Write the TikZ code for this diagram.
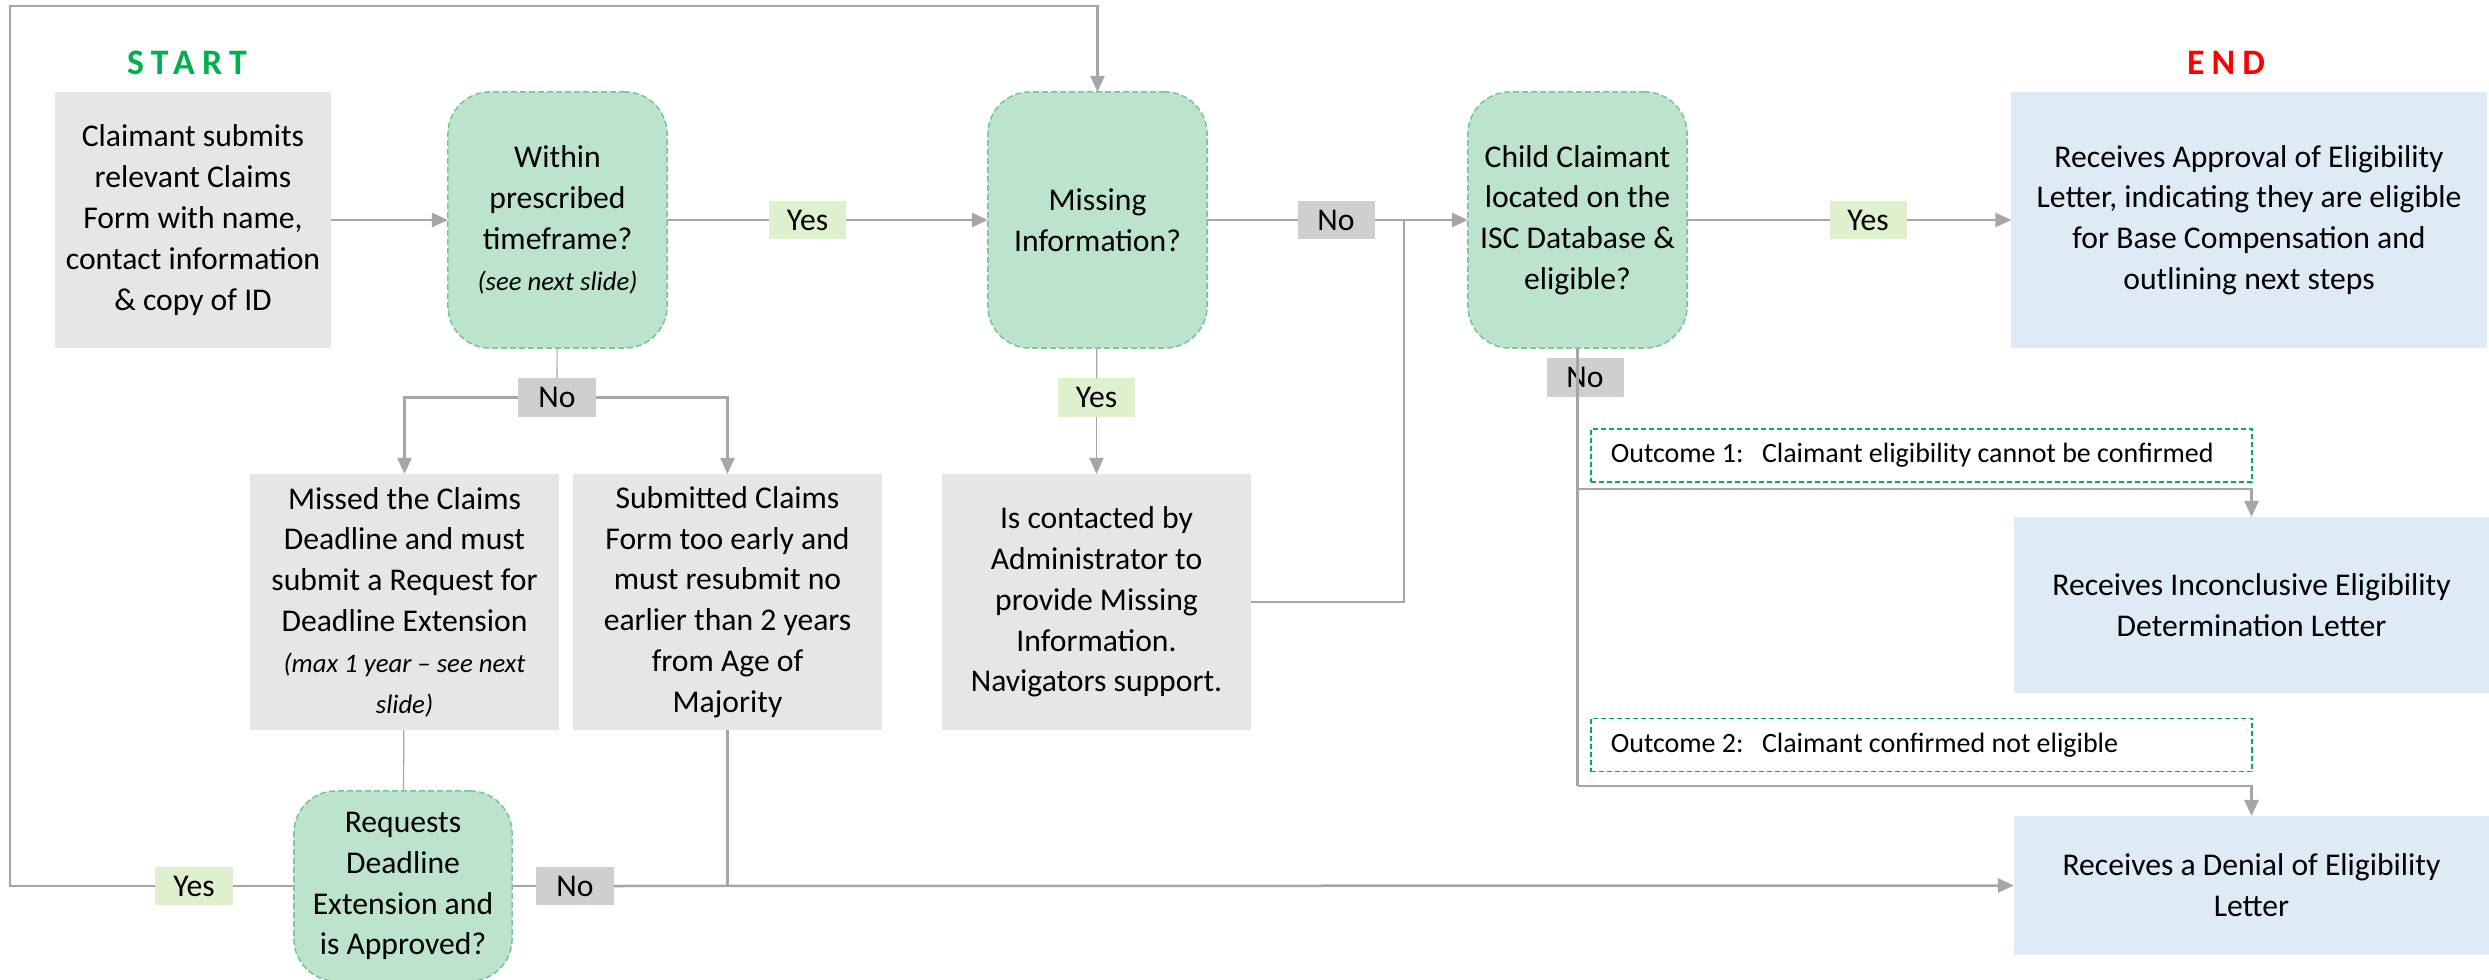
\documentclass[tikz,border=0pt]{standalone}
\usepackage{fontspec}
\setmainfont{Carlito}
\newfontfamily\spacedfont[LetterSpace=20]{Carlito}
\usetikzlibrary{arrows.meta}

\definecolor{linegrey}{RGB}{166,166,166}
\definecolor{boxgrey}{RGB}{231,230,230}
\definecolor{mint}{RGB}{188,227,203}
\definecolor{mintline}{RGB}{118,196,148}
\definecolor{paleblue}{RGB}{222,234,246}
\definecolor{yesgreen}{RGB}{222,240,206}
\definecolor{nogrey}{RGB}{208,206,206}
\definecolor{startgreen}{RGB}{0,176,80}
\definecolor{endred}{RGB}{255,0,0}

\newcommand{\smallnote}[1]{{\fontsize{7.6}{9.5}\selectfont\itshape #1}}
\newcommand{\outcometext}[1]{\makebox[6.21cm][l]{#1}}

\tikzset{
  every node/.style={inner sep=0pt, outer sep=0pt, align=center,
    font=\fontsize{9}{11.6}\selectfont},
  title/.style={font=\spacedfont\bfseries\fontsize{10.2}{12}\selectfont},
  greybox/.style={fill=boxgrey, minimum width=3.09cm, minimum height=2.56cm},
  bluebox/.style={fill=paleblue, minimum width=4.75cm},
  decision/.style={fill=mint, draw=mintline, line width=0.015cm,
    dash pattern=on 0.06cm off 0.03cm, rounded corners=0.42cm,
    minimum width=2.19cm, minimum height=2.56cm},
  yeslbl/.style={fill=yesgreen, minimum width=0.77cm, minimum height=0.38cm},
  nolbl/.style={fill=nogrey, minimum width=0.77cm, minimum height=0.38cm},
  outcome/.style={draw=startgreen, fill=white, line width=0.015cm,
    dash pattern=on 0.05cm off 0.03cm, inner xsep=0.2cm,
    minimum height=0.53cm, font=\fontsize{7.95}{10}\selectfont},
  link/.style={draw=linegrey, line width=0.025cm},
  stub/.style={draw=linegrey, line width=0.012cm},
  tip/.style={-{Triangle[length=0.16cm, width=0.14cm]}}
}

\begin{document}
\begin{tikzpicture}[x=0.01cm, y=-0.01cm]
\useasboundingbox (0,0) rectangle (2489,980);

\node[title, text=startgreen] at (187,63) (start) {START};
\node[title, text=endred] at (2226,63) (end) {END};

% top row
\node[greybox, minimum width=2.76cm] at (193,220) (claim)
  {Claimant submits\\relevant Claims\\Form with name,\\contact information\\\& copy of ID};
\node[decision] at (557.5,220) (within)
  {Within\\prescribed\\timeframe?\\\smallnote{(see next slide)}};
\node[decision] at (1097.5,220) (missing) {Missing\\Information?};
\node[decision] at (1577.5,220) (child)
  {Child Claimant\\located on the\\ISC Database \&\\eligible?};
\node[bluebox, minimum height=2.56cm] at (2249,220) (approval)
  {Receives Approval of Eligibility\\Letter, indicating they are eligible\\for Base Compensation and\\outlining next steps};

\node[yeslbl] at (807.5,220) (yes1) {Yes};
\node[nolbl] at (1336,220) (no1) {No};
\node[yeslbl] at (1868,220) (yes2) {Yes};
\node[nolbl] at (557,397.5) (no2) {No};
\node[yeslbl] at (1096.5,397.5) (yes3) {Yes};
\node[nolbl] at (1585,377.5) (no3) {No};

% middle row
\node[greybox] at (404.5,602) (missed)
  {Missed the Claims\\Deadline and must\\submit a Request for\\Deadline Extension\\\smallnote{(max 1 year – see next}\\\smallnote{slide)}};
\node[greybox] at (727.5,602) (submitted)
  {Submitted Claims\\Form too early and\\must resubmit no\\earlier than 2 years\\from Age of\\Majority};
\node[greybox] at (1096.5,602) (contact)
  {Is contacted by\\Administrator to\\provide Missing\\Information.\\Navigators support.};

\node[outcome] at (1921.5,455.5) (out1)
  {\outcometext{Outcome 1:\hspace{0.1cm} Claimant eligibility cannot be confirmed}};
\node[outcome] at (1921.5,745) (out2)
  {\outcometext{Outcome 2:\hspace{0.1cm} Claimant confirmed not eligible}};
\node[bluebox, minimum height=1.76cm] at (2251.5,605) (inconcl)
  {Receives Inconclusive Eligibility\\Determination Letter};

% bottom row
\node[decision, minimum width=2.18cm, minimum height=1.90cm] at (403,886) (requests)
  {Requests\\Deadline\\Extension and\\is Approved?};
\node[yeslbl] at (194,886) (yesL) {Yes};
\node[nolbl] at (575,886) (noR) {No};
\node[bluebox, minimum height=1.39cm] at (2251.5,885.5) (denial)
  {Receives a Denial of Eligibility\\Letter};

\coordinate (loopbl) at (10,886);
\coordinate (looptl) at (10,6);
\coordinate (merge) at (1404,220);
\coordinate (fork1) at (1577.5,489);
\coordinate (fork2) at (1577.5,786);

\draw[link, tip] (claim) -- (within);
\foreach \a/\l/\b in {within/yes1/missing, missing/no1/child, child/yes2/approval} {
  \draw[stub] (\a) -- (\l);
  \draw[link, tip] (\l) -- (\b);
}

\draw[stub] (within) -- (no2);
\draw[link, tip] (no2.west) -| (missed.north);
\draw[link, tip] (no2.east) -| (submitted.north);

\draw[stub] (missing) -- (yes3);
\draw[draw=linegrey, line width=0.018cm, tip] (yes3) -- (contact);
\draw[link] (contact.east) -| (merge);

\draw[link] (child.south) -- (fork2);
\draw[link, tip] (fork1) -| (inconcl.north);
\draw[link, tip] (fork2) -| (denial.north);

\draw[stub] (missed) -- (requests);
\draw[stub] (requests) -- (yesL);
\draw[link, tip] (yesL.west) -- (loopbl) -- (looptl) -| (missing.north);
\draw[stub] (requests) -- (noR);
\draw[link, tip] (noR.east) -- (denial.west);
\draw[link] (submitted.south) -- (submitted.south |- noR.east);

\end{tikzpicture}
\end{document}
